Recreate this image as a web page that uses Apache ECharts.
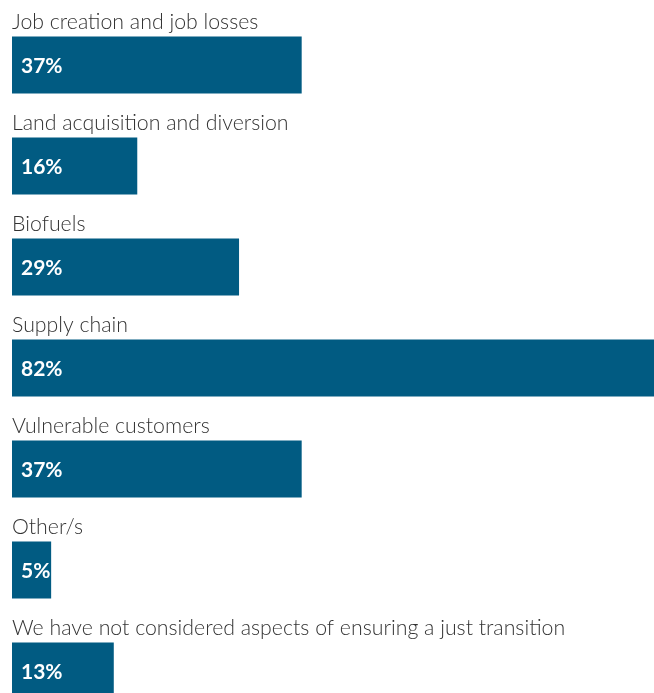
<!DOCTYPE html>
<html>
<head>
<meta charset="utf-8">
<script src="https://cdn.jsdelivr.net/npm/echarts@6/dist/echarts.min.js"></script>
<style>
  html, body { margin: 0; padding: 0; background: #ffffff; overflow: hidden; }
  /* the last band runs past the bottom of the window */
  #chart { width: 654px; height: 722px; }
</style>
</head>
<body>
<div id="chart"></div>
<script>
// Aspects considered, with the share of respondents for each
const categories = [
  'Job creation and job losses',
  'Land acquisition and diversion',
  'Biofuels',
  'Supply chain',
  'Vulnerable customers',
  'Other/s',
  'We have not considered aspects of ensuring a just transition'
];
const shares = [37, 16, 29, 82, 37, 5, 13];

const chart = echarts.init(document.getElementById('chart'), null, { renderer: 'canvas' });

chart.setOption({
  animation: false,
  grid: { left: 12, right: 0, top: 14.5, bottom: 0.5, containLabel: false },
  xAxis: {
    type: 'value',
    min: 0,
    max: 82,
    show: false
  },
  yAxis: {
    type: 'category',
    data: categories,
    inverse: true,
    show: false
  },
  series: [{
    name: 'share',
    type: 'bar',
    data: shares,
    barWidth: 57,
    z: 2,
    itemStyle: { color: '#015b82' },
    label: {
      show: true,
      position: 'insideLeft',
      distance: 9,
      offset: [0, 1.5],
      formatter: '{c}%',
      fontFamily: 'Lato',
      fontWeight: 'bold',
      fontSize: 21,
      color: '#ffffff'
    }
  }, {
    // transparent twin that carries the category caption above each bar
    name: 'caption',
    type: 'bar',
    data: shares,
    barWidth: 57,
    barGap: '-100%',
    silent: true,
    z: 3,
    itemStyle: { color: 'rgba(0,0,0,0)' },
    label: {
      show: true,
      position: [0, -14],
      align: 'left',
      verticalAlign: 'middle',
      formatter: '{b}',
      fontFamily: 'Lato',
      fontWeight: 300,
      fontSize: 21.3,
      color: '#333333'
    }
  }]
});
</script>
</body>
</html>
